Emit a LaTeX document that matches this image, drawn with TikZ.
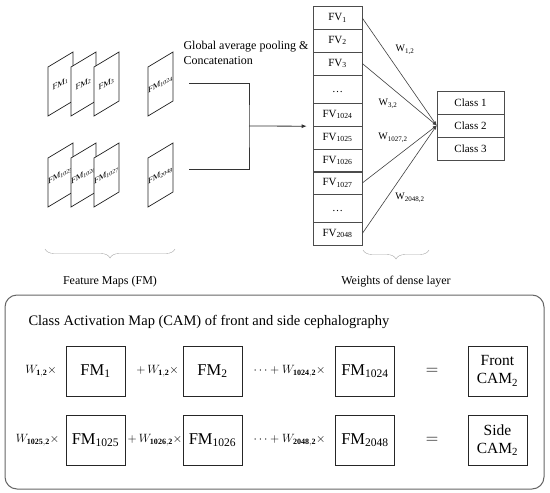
\documentclass[tikz,border=0pt]{standalone}
\usepackage{fontspec}
\setmainfont{Liberation Serif}
\usetikzlibrary{arrows.meta,decorations.pathreplacing,positioning}

\begin{document}
\begin{tikzpicture}[
    x=1pt, y=-1pt,
    % --- Styles ---
    % Sheared sheets for the feature maps
    map sheet/.style={draw=black!85, line width=0.7pt, fill=white, yslant=0.6, minimum width=25pt, minimum height=49pt, inner sep=0pt, font=\fontsize{8.5}{9}\selectfont},
    fv cell/.style={draw=black!70, line width=0.6pt, minimum width=49pt, minimum height=22.8pt, inner sep=0pt, font=\fontsize{11}{12}\selectfont},
    class cell/.style={draw=black!70, line width=0.6pt, minimum width=67pt, minimum height=22.8pt, inner sep=0pt, font=\fontsize{11}{12}\selectfont},
    weight label/.style={font=\fontsize{10}{11}\selectfont, inner sep=0pt},
    weight line/.style={draw=black!75, line width=0.6pt, -{Latex[length=4pt,width=3.5pt]}},
    connector line/.style={draw=black!80, line width=0.8pt},
    % Light gray braces under the groups
    brace line/.style={draw=black!35, decorate, decoration={brace, mirror, amplitude=9pt}},
    caption node/.style={font=\fontsize{12}{14}\selectfont},
    cam box/.style={draw=black!85, line width=1pt, minimum width=59pt, minimum height=50pt, inner sep=0pt, font=\fontsize{16.5}{18}\selectfont},
    op node/.style={font=\fontsize{11.5}{13}\selectfont, inner sep=0pt},
    eq node/.style={font=\fontsize{17}{18}\selectfont, inner sep=0pt}
]

%================CONFIGURATION================
\def\fvx{337.5}
\def\classx{470.5}
\def\rowA{371}
\def\rowB{440}
%=============================================

\useasboundingbox (0,0) rectangle (550,493);

% --- Feature map sheets ---
\foreach \i/\xc in {1/60.5, 2/83.5, 3/106.5, 1024/160.5}
    \node[map sheet] (fm\i) at (\xc,84) {FM\textsubscript{\i}};
\foreach \i/\xc in {1025/60.5, 1026/83.5, 1027/106.5, 2048/160.5}
    \node[map sheet] (fm\i) at (\xc,175) {FM\textsubscript{\i}};

% --- Feature vector column ---
\foreach \i/\yc in {1/18, 2/40.5, 3/63.5, 1024/114.5, 1025/137.5, 1026/160.5, 1027/183, 2048/233.5}
    \node[fv cell] (fv\i) at (\fvx,\yc) {FV\textsubscript{\i}};
\node[fv cell, minimum height=28pt] (fvdotsA) at (\fvx,89) {\raisebox{-7pt}{\ldots}};
\node[fv cell, minimum height=28pt] (fvdotsB) at (\fvx,208) {\raisebox{-7pt}{\ldots}};

% --- Output classes ---
\foreach \i/\yc in {1/103, 2/125.5, 3/148.5}
    \node[class cell] (class\i) at (\classx,\yc) {Class \i};

% Pooling connector
\coordinate (joint) at (249,126);
\draw[connector line] ([xshift=28.5pt,yshift=1pt]fm1024.center) -| (joint) |- ([xshift=28.5pt,yshift=6pt]fm2048.center);
\draw[connector line, -{Latex[length=5pt,width=4pt]}] (joint) -- ([xshift=-6pt]fv1024.south west);
\node[caption node, anchor=north west, align=left, font=\fontsize{12}{15}\selectfont] (pooltext) at (180,38) {Global average pooling \&\\Concatenation};

% Dense weights
\foreach \i in {1,3,1027,2048}
    \draw[weight line] (fv\i.east) -- (class2.west);
\node[weight label] (w1) at (405,50) {W\textsubscript{1,2}};
\node[weight label] (w3) at (388,104) {W\textsubscript{3,2}};
\node[weight label] (w1027) at (393,138) {W\textsubscript{1027,2}};
\node[weight label] (w2048) at (410,198) {W\textsubscript{2048,2}};

% --- Braces and captions ---
\draw[brace line] (45,249) -- (175,249);
\node[caption node] (fmcap) at (110,282) {Feature Maps (FM)};
\draw[brace line] (363,250) -- (429,250);
\node[caption node] (wcap) at (396,282) {Weights of dense layer};

% --- Class activation map panel ---
\draw[draw=black!60, line width=1pt, rounded corners=12pt] (5,295) rectangle (544,489);
\node[anchor=west, font=\fontsize{14.5}{16}\selectfont] (camtitle) at (25,322) {Class Activation Map (CAM) of front and side cephalography};

\node[op node] (opA1) at (41,\rowA) {$W_{\mathbf{1,2}}\times$};
\node[op node] (opA2) at (157.5,\rowA) {$+\,W_{\mathbf{1,2}}\times$};
\node[op node] (opA3) at (289.5,\rowA) {$\cdots+W_{\mathbf{1024,2}}\times$};
\node[op node] (opB1) at (37.5,\rowB) {$W_{\mathbf{1025,2}}\times$};
\node[op node] (opB2) at (155,\rowB) {$+\,W_{\mathbf{1026,2}}\times$};
\node[op node] (opB3) at (289.5,\rowB) {$\cdots+W_{\mathbf{2048,2}}\times$};

\foreach \a/\b/\c/\yc in {1/2/1024/\rowA, 1025/1026/2048/\rowB} {
    \node[cam box] (fmbox\a) at (95.5,\yc) {FM\textsubscript{\a}};
    \node[cam box] (fmbox\b) at (212.5,\yc) {FM\textsubscript{\b}};
    \node[cam box] (fmbox\c) at (365,\yc) {FM\textsubscript{\c}};
}
\node[eq node] (eqA) at (432,\rowA) {$=$};
\node[eq node] (eqB) at (432,\rowB) {$=$};
\node[cam box, align=center, font=\fontsize{15.5}{18}\selectfont] (front) at (497.5,\rowA) {Front\\CAM\textsubscript{2}};
\node[cam box, align=center, font=\fontsize{15.5}{18}\selectfont] (side) at (497.5,\rowB) {Side\\CAM\textsubscript{2}};

\end{tikzpicture}
\end{document}
